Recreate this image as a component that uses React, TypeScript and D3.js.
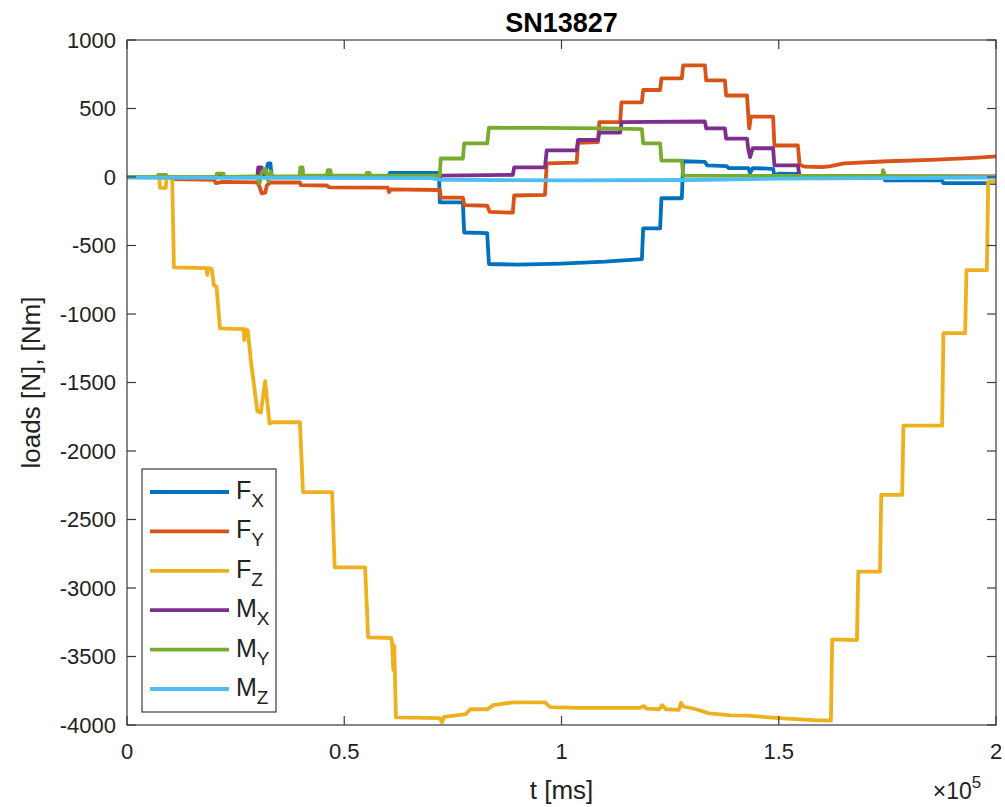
import React from 'react';
import * as d3 from 'd3';

// time values are in units of 1e5 ms (axis multiplier)
const xTicks = [0, 0.5, 1, 1.5, 2];
const yTicks = [1000, 500, 0, -500, -1000, -1500, -2000, -2500, -3000, -3500, -4000];

const seriesMain = ['F', 'F', 'F', 'M', 'M', 'M'];
const seriesSub = ['X', 'Y', 'Z', 'X', 'Y', 'Z'];
const seriesColors = ['#0072BD', '#D95319', '#EDB120', '#7E2F8E', '#77AC30', '#4DBEEE'];

type P = [number, number];

const fx: P[] = [[0,0],[0.3,0],[0.303,30],[0.31,60],[0.314,5],[0.319,40],[0.325,100],[0.33,100],[0.333,0],[0.6,0],[0.605,30],[0.718,30],[0.72,-185],[0.773,-185],[0.776,-405],[0.829,-410],[0.833,-635],[0.9,-640],[1.0,-632],[1.1,-618],[1.185,-600],[1.188,-375],[1.227,-375],[1.23,-155],[1.277,-155],[1.28,115],[1.33,110],[1.335,85],[1.38,80],[1.385,65],[1.43,65],[1.434,30],[1.44,65],[1.487,60],[1.49,10],[1.5,25],[1.544,22],[1.55,8],[1.6,5],[1.74,0],[1.745,-25],[1.876,-25],[1.879,-45],[2.0,-45]];

const fy: P[] = [[0,0],[0.1,-5],[0.11,-15],[0.2,-20],[0.205,-45],[0.22,-35],[0.3,-40],[0.305,-70],[0.31,-120],[0.318,-115],[0.322,-60],[0.33,-40],[0.398,-40],[0.4,-60],[0.46,-62],[0.465,-75],[0.6,-78],[0.603,-110],[0.606,-90],[0.72,-95],[0.722,-150],[0.773,-150],[0.776,-205],[0.829,-210],[0.835,-255],[0.888,-260],[0.891,-135],[0.962,-130],[0.966,100],[1.035,105],[1.038,250],[1.084,255],[1.087,400],[1.135,400],[1.138,545],[1.185,545],[1.188,635],[1.227,635],[1.23,720],[1.277,720],[1.28,815],[1.33,815],[1.333,705],[1.376,705],[1.379,595],[1.427,595],[1.43,440],[1.432,355],[1.436,440],[1.487,440],[1.49,230],[1.544,230],[1.548,90],[1.56,75],[1.6,72],[1.62,80],[1.65,100],[1.75,115],[1.85,125],[1.95,140],[2.0,150]];

const fz: P[] = [[0,0],[0.074,0],[0.076,-80],[0.089,-80],[0.091,-10],[0.104,-5],[0.108,-660],[0.183,-665],[0.185,-715],[0.187,-665],[0.195,-670],[0.2,-790],[0.206,-800],[0.214,-1105],[0.268,-1110],[0.27,-1190],[0.272,-1110],[0.278,-1120],[0.285,-1340],[0.3,-1710],[0.308,-1720],[0.318,-1490],[0.328,-1800],[0.334,-1790],[0.398,-1790],[0.405,-2300],[0.472,-2300],[0.478,-2850],[0.548,-2850],[0.555,-3360],[0.608,-3365],[0.61,-3400],[0.613,-3600],[0.615,-3420],[0.619,-3945],[0.72,-3950],[0.725,-3980],[0.73,-3940],[0.78,-3920],[0.79,-3885],[0.83,-3885],[0.843,-3855],[0.888,-3835],[0.962,-3835],[0.974,-3870],[1.04,-3875],[1.18,-3875],[1.19,-3862],[1.195,-3880],[1.225,-3885],[1.232,-3855],[1.24,-3885],[1.27,-3890],[1.275,-3838],[1.28,-3865],[1.31,-3885],[1.34,-3915],[1.39,-3930],[1.43,-3932],[1.5,-3950],[1.58,-3965],[1.62,-3968],[1.623,-3375],[1.68,-3380],[1.683,-2880],[1.733,-2880],[1.736,-2320],[1.784,-2320],[1.787,-1815],[1.876,-1815],[1.879,-1140],[1.929,-1140],[1.932,-680],[1.979,-680],[1.982,-35],[2.0,-35]];

const mx: P[] = [[0,0],[0.3,0],[0.302,70],[0.31,70],[0.312,0],[0.72,0],[0.722,10],[0.888,15],[0.891,70],[0.962,70],[0.966,195],[1.035,195],[1.038,270],[1.084,270],[1.087,325],[1.135,325],[1.138,400],[1.33,405],[1.333,355],[1.376,355],[1.379,280],[1.427,280],[1.43,200],[1.434,145],[1.44,210],[1.487,210],[1.49,85],[1.544,85],[1.548,5],[2.0,5]];

const my: P[] = [[0,0],[0.07,0],[0.072,15],[0.09,15],[0.092,0],[0.205,0],[0.207,25],[0.222,25],[0.224,0],[0.3,5],[0.305,-45],[0.31,30],[0.318,60],[0.325,-30],[0.33,40],[0.335,5],[0.397,5],[0.399,70],[0.404,70],[0.406,10],[0.46,10],[0.462,50],[0.468,50],[0.47,10],[0.55,10],[0.552,30],[0.558,30],[0.56,10],[0.72,10],[0.722,135],[0.773,135],[0.776,245],[0.829,245],[0.833,360],[0.95,358],[1.1,355],[1.185,350],[1.188,245],[1.227,245],[1.23,120],[1.277,120],[1.28,10],[1.5,8],[1.738,8],[1.74,50],[1.745,8],[2.0,0]];

const mz: P[] = [[0,-5],[0.7,-8],[0.72,-20],[1.0,-25],[1.3,-22],[1.5,-12],[2.0,-5]];

const seriesData = [fx, fy, fz, mx, my, mz];

const FONT = '"Liberation Sans", Arial, Helvetica, sans-serif';
const AXIS = '#3a3a3a';

export default function App() {
  const W = 1005, H = 807;
  const L = 127, R = 996, T = 40, B = 725;
  const x = d3.scaleLinear().domain([0, 2]).range([L, R]);
  const y = d3.scaleLinear().domain([-4000, 1000]).range([B, T]);
  const line = d3.line<P>().x(d => x(d[0])).y(d => y(d[1]));
  const tick = 9;
  const legX = 142, legY = 469, legW = 134, legH = 243;
  const rowH = 39.4;

  return (
    <svg width={W} height={H} style={{ position: 'absolute', left: 0, top: 0, background: '#fff' }} fontFamily={FONT}>
      <defs>
        <clipPath id="plotClip"><rect x={L} y={T} width={R - L} height={B - T} /></clipPath>
      </defs>
      <rect x={0} y={0} width={W} height={H} fill="#fff" />
      <g clipPath="url(#plotClip)">
        {seriesData.map((d, i) => (
          <path key={i} d={line(d) || ''} fill="none" stroke={seriesColors[i]} strokeWidth={3.8} strokeLinejoin="round" />
        ))}
      </g>
      <rect x={L} y={T} width={R - L} height={B - T} fill="none" stroke={AXIS} strokeWidth={1.2} />
      {xTicks.map(t => (
        <g key={'x' + t}>
          <line x1={x(t)} x2={x(t)} y1={B} y2={B - tick} stroke={AXIS} strokeWidth={1.2} />
          <line x1={x(t)} x2={x(t)} y1={T} y2={T + tick} stroke={AXIS} strokeWidth={1.2} />
          <text x={x(t)} y={759} textAnchor="middle" fontSize={22} fill="#222">{String(t)}</text>
        </g>
      ))}
      {yTicks.map(t => (
        <g key={'y' + t}>
          <line x1={L} x2={L + tick} y1={y(t)} y2={y(t)} stroke={AXIS} strokeWidth={1.2} />
          <line x1={R} x2={R - tick} y1={y(t)} y2={y(t)} stroke={AXIS} strokeWidth={1.2} />
          <text x={116} y={y(t)} dy="0.36em" textAnchor="end" fontSize={22} fill="#222">{String(t)}</text>
        </g>
      ))}
      <text x={(L + R) / 2} y={799} textAnchor="middle" fontSize={26} fill="#222">t [ms]</text>
      <text x={957} y={799} textAnchor="middle" fontSize={23} fill="#222">
        ×10<tspan dy={-11} fontSize={17}>5</tspan>
      </text>
      <text transform={`translate(40,${(T + B) / 2}) rotate(-90)`} textAnchor="middle" fontSize={26} fill="#222">loads [N], [Nm]</text>
      <text x={(L + R) / 2} y={32} textAnchor="middle" fontSize={27} fontWeight="bold" fill="#000">SN13827</text>
      <rect x={legX} y={legY} width={legW} height={legH} fill="#fff" stroke={AXIS} strokeWidth={1.2} />
      {seriesColors.map((c, i) => {
        const ry = legY + 23 + i * rowH;
        return (
          <g key={'l' + i}>
            <line x1={150} x2={229} y1={ry} y2={ry} stroke={c} strokeWidth={3.8} />
            <text x={236} y={ry + 7} fontSize={25} fill="#222">
              {seriesMain[i]}<tspan dy={8} fontSize={19}>{seriesSub[i]}</tspan>
            </text>
          </g>
        );
      })}
    </svg>
  );
}
